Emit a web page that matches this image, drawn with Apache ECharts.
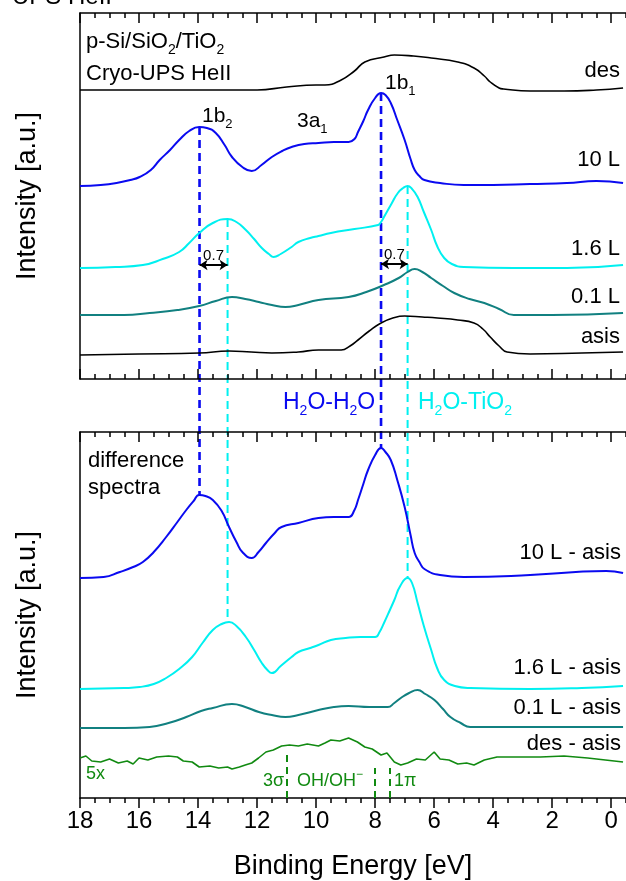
<!DOCTYPE html>
<html>
<head>
<meta charset="utf-8">
<script src="https://cdn.jsdelivr.net/npm/echarts@6/dist/echarts.min.js"></script>
<style>
  html, body { margin: 0; padding: 0; background: #fff; }
  #chart { width: 626px; height: 881px; }
</style>
</head>
<body>
<div id="chart"></div>
<script>
// binding energy [eV], intensity (arb. units)
const majorTicks = [0, 2, 4, 6, 8, 10, 12, 14, 16, 18];

// top panel: raw spectra
const topDes = [[18,289],[16,289],[14,289],[12,289],[11,292],[10,294],[9.7,294],[9.15,299],[8.7,308],[8.35,317],[7.7,322],[7.35,324],[6.7,323],[6.1,321],[5.2,317],[4.65,311],[4.3,303],[4.1,297],[3.8,291],[3.65,290],[2.75,288],[1.6,288],[0.5,289],[-0.4,291]];
const top10L = [[18,193],[17.3,194],[16.76,196],[16.3,199],[15.98,202],[15.6,209],[15.3,219],[14.95,229],[14.64,239],[14.3,248],[13.96,252],[13.7,251],[13.4,246],[13.1,234],[12.85,222],[12.5,212],[12.18,208],[11.85,214],[11.5,222],[11.15,228],[10.83,232],[10.4,235],[9.92,236],[9.4,237],[8.9,237],[8.7,240],[8.58,247],[8.4,258],[8.24,269],[8.0,281],[7.8,286],[7.65,284],[7.47,276],[7.25,259],[7.0,239],[6.8,220],[6.66,209],[6.5,203],[6.33,199],[5.8,196],[5.0,194],[4,194],[2.75,195],[1.5,196],[0.5,198],[-0.4,196]];
const top16L = [[18,111],[16.8,112],[15.87,114],[15.2,120],[14.64,127],[14.3,136],[13.96,146],[13.5,156],[13.0,160],[12.7,157],[12.38,149],[12.1,140],[11.84,131],[11.6,125],[11.44,122],[11.2,125],[10.83,132],[10.6,137],[10.2,141],[9.92,143],[9.5,146],[8.7,150],[7.9,154],[7.8,157],[7.7,162],[7.45,175],[7.23,186],[7.05,191],[6.9,193],[6.75,190],[6.56,182],[6.35,167],[6.1,149],[5.9,133],[5.66,121],[5.4,115],[5.0,112],[3.3,111],[1.5,111],[-0.4,114]];
const top01L = [[18,64],[16.5,64],[15.64,66],[14.7,69],[13.96,73],[13.4,78],[12.85,82],[12.4,80],[11.94,77],[11.5,74],[11.04,72],[10.6,74],[9.92,79],[8.9,82],[8.3,87],[7.7,94],[7.2,101],[6.9,107],[6.66,110],[6.4,107],[6.1,101],[5.7,93],[5.32,86],[4.8,80],[4.3,76],[3.8,70],[3.3,64],[2,64],[-0.4,66]];
const topAsis = [[18,24],[16,25],[13.96,26],[12.95,28],[12.2,27],[11.5,26],[10.6,27],[9.92,29],[9.15,29],[8.85,33],[8.58,39],[8.2,48],[7.8,56],[7.4,61],[7.0,63],[6.4,62],[5.89,61],[5.2,59],[4.65,56],[4.35,50],[4.1,42],[3.8,33],[3.53,27],[2.75,25],[1,26],[-0.4,27]];

// bottom panel: difference spectra
const diff10L = [[18,220],[17.2,221],[16.65,226],[16.2,231],[15.87,236],[15.5,246],[15.08,261],[14.7,276],[14.4,288],[14.15,297],[13.96,303],[13.75,302],[13.5,298],[13.2,287],[12.95,271],[12.7,256],[12.5,246],[12.18,240],[11.95,246],[11.7,255],[11.4,265],[11.17,271],[10.6,275],[9.92,280],[9.4,281],[8.9,281],[8.7,288],[8.58,298],[8.4,314],[8.24,328],[8.0,343],[7.8,350],[7.65,346],[7.47,338],[7.25,318],[7.0,291],[6.8,263],[6.66,245],[6.5,236],[6.33,229],[5.8,223],[5.0,221],[2.75,223],[1.2,226],[0.17,227],[-0.4,225]];
const diff16L = [[18,109],[16.5,110],[15.98,111],[15.5,114],[15.08,120],[14.6,130],[14.2,141],[13.85,155],[13.5,168],[13.2,174],[12.95,176],[12.7,172],[12.38,161],[12.1,148],[11.84,135],[11.65,128],[11.5,125],[11.2,132],[10.83,141],[10.6,146],[10.2,150],[9.92,153],[9.5,158],[9.0,160],[8.5,161],[8.0,161],[7.85,166],[7.7,175],[7.5,188],[7.35,198],[7.15,212],[6.9,220],[6.75,215],[6.56,195],[6.35,172],[6.1,148],[5.9,130],[5.66,118],[5.3,112],[4.78,110],[2.75,109],[1,110],[-0.4,112]];
const diff01L = [[18,70],[16.5,70],[15.64,71],[15,75],[14.4,81],[13.9,87],[13.5,90],[12.85,94],[12.4,91],[11.94,86],[11.5,83],[11.04,81],[10.6,83],[9.92,88],[9.4,91],[8.9,92],[8.2,91],[7.57,91],[7.35,95],[7.13,100],[6.85,105],[6.56,108],[6.3,104],[5.99,98],[5.7,89],[5.45,81],[5.1,75],[4.78,71],[3,71],[-0.4,71]];
const diffDes = [[18,40],[17.8,42],[17.6,37],[17.3,36],[17.0,39],[16.7,35],[16.4,37],[16.2,34],[16.0,40],[15.7,38],[15.4,41],[15.0,42],[14.7,41],[14.5,37],[14.2,36],[13.96,31],[13.6,32],[13.3,30],[13.0,31],[12.85,29],[12.6,31],[12.4,33],[12.18,35],[11.95,40],[11.7,46],[11.45,48],[11.17,52],[10.9,53],[10.6,52],[10.3,54],[9.92,52],[9.7,55],[9.5,58],[9.2,57],[8.9,60],[8.6,56],[8.35,51],[8.1,49],[7.8,43],[7.6,45],[7.35,36],[7.13,33],[6.9,35],[6.6,39],[6.3,38],[6.0,46],[5.8,39],[5.5,38],[5.2,34],[4.9,35],[4.65,33],[4.3,38],[3.87,41],[3.2,41],[2.4,41],[1.6,42],[0.8,40],[0.2,38],[-0.4,36]];

// dashed guide lines: [energy, peak in top panel, peak in bottom panel]
const guideBlue = [[13.95, 252, 303], [7.8, 286, 350]];
const guideCyan = [[13.0, 160, 176], [6.9, 193, 220]];
// shift arrows: [from, to, height in top panel]
const shiftArrows = [[13.95, 13.0, 114], [7.8, 6.9, 115]];
// species markers in the des - asis curve: [energy, top of dash]
const speciesMarks = [[11.0, 46], [8.0, 30], [7.5, 30]];

const FONT = 'Liberation Sans, Arial, sans-serif';
const BLUE = '#0a0af0';
const CYAN = '#00f0f0';
const TEAL = '#118080';
const GREEN = '#118a11';

const chart = echarts.init(document.getElementById('chart'));

function xAxisPair(gridIndex, position, inside, withLabels) {
  const base = {
    type: 'value', gridIndex: gridIndex, position: position,
    min: -0.5, max: 18, inverse: true,
    splitLine: { show: false }
  };
  const minor = Object.assign({}, base, {
    interval: 0.5,
    axisLine: { show: true, onZero: false, lineStyle: { color: '#000', width: 1.5 } },
    axisTick: { show: true, inside: inside, length: 5, lineStyle: { color: '#000', width: 1.5 } },
    axisLabel: { show: false }
  });
  const major = Object.assign({}, base, {
    axisLine: { show: false, onZero: false },
    axisTick: { show: true, inside: inside, length: 10, customValues: majorTicks, lineStyle: { color: '#000', width: 1.5 } },
    axisLabel: withLabels ? {
      show: true, customValues: majorTicks, margin: 11,
      fontSize: 24, color: '#000', fontFamily: FONT
    } : { show: false }
  });
  if (withLabels) {
    major.name = 'Binding Energy [eV]';
    major.nameLocation = 'middle';
    major.nameGap = 55;
    major.nameTextStyle = { fontSize: 27, color: '#000', fontFamily: FONT };
  }
  return [minor, major];
}

function yAxis(gridIndex) {
  return {
    type: 'value', gridIndex: gridIndex, min: 0, max: 366,
    axisLine: { show: true, onZero: false, lineStyle: { color: '#000', width: 1.5 } },
    axisTick: { show: false }, axisLabel: { show: false }, splitLine: { show: false },
    name: 'Intensity [a.u.]', nameLocation: 'middle', nameGap: 39,
    nameTextStyle: { fontSize: 27, color: '#000', fontFamily: FONT }
  };
}

function spectrum(data, color, grid, width, smooth) {
  return {
    type: 'line', data: data,
    xAxisIndex: grid === 0 ? 0 : 4, yAxisIndex: grid,
    showSymbol: false,
    smooth: smooth === false ? false : 0.5,
    lineStyle: { color: color, width: width || 2 },
    silent: true
  };
}

function label(text, x, y, color, size, align, rich) {
  return {
    type: 'text', x: x, y: y, silent: true,
    style: {
      text: text, fill: color || '#000', font: (size || 22) + 'px ' + FONT,
      align: align || 'left', verticalAlign: 'middle', rich: rich
    }
  };
}

function subRich(size, color) {
  return {
    n: { fontSize: size, fontFamily: FONT, color: color },
    s: { fontSize: Math.round(size * 0.62), fontFamily: FONT, color: color, padding: [16, 0, 0, 0] }
  };
}

const arrowSeries = spectrum(topAsis, '#000', 0, 1.6);
arrowSeries.markLine = {
  silent: true, symbol: ['arrow', 'arrow'], symbolSize: 8,
  lineStyle: { color: '#000', width: 2, type: 'solid' },
  label: { show: true, formatter: '0.7', position: 'insideMiddleTop', distance: 2, fontSize: 15, color: '#000', fontFamily: FONT },
  data: shiftArrows.map(a => [{ coord: [a[0], a[2]] }, { coord: [a[1], a[2]] }])
};

const greenSeries = spectrum(diffDes, GREEN, 1, 1.6, false);
greenSeries.markLine = {
  silent: true, symbol: 'none',
  lineStyle: { color: GREEN, width: 2, type: [7, 5] },
  label: { show: false },
  data: speciesMarks.map(m => [{ coord: [m[0], 0] }, { coord: [m[0], m[1]] }])
};

chart.setOption({
  animation: false,
  backgroundColor: '#fff',
  grid: [
    { left: 80, right: -3, top: 13, height: 366 },
    { left: 80, right: -3, top: 432, height: 366 }
  ],
  xAxis: [].concat(
    xAxisPair(0, 'bottom', true, false),
    xAxisPair(0, 'top', true, false),
    xAxisPair(1, 'bottom', false, true),
    xAxisPair(1, 'top', true, false)
  ),
  yAxis: [yAxis(0), yAxis(1)],
  series: [
    spectrum(topDes, '#000', 0, 1.6),
    spectrum(top10L, BLUE, 0),
    spectrum(top16L, CYAN, 0),
    spectrum(top01L, TEAL, 0),
    arrowSeries,
    spectrum(diff10L, BLUE, 1),
    spectrum(diff16L, CYAN, 1),
    spectrum(diff01L, TEAL, 1),
    greenSeries
  ]
});

// long dashed guides crossing both panels, placed through the axes
const guides = [];
function addGuides(list, color, width) {
  list.forEach(g => {
    const p1 = chart.convertToPixel({ seriesIndex: 1 }, [g[0], g[1]]);
    const p2 = chart.convertToPixel({ seriesIndex: 5 }, [g[0], g[2]]);
    guides.push({
      type: 'line', silent: true,
      shape: { x1: p1[0], y1: p1[1], x2: p2[0], y2: p2[1] },
      style: { stroke: color, lineWidth: width, lineDash: [8, 5] }
    });
  });
}
addGuides(guideBlue, BLUE, 2.6);
addGuides(guideCyan, CYAN, 2);

const texts = [
  label('UPS HeII', 12, -3, '#000', 24, 'left'),
  label('{n|p-Si/SiO}{s|2}{n|/TiO}{s|2}', 86, 42, '#000', 22, 'left', subRich(22, '#000')),
  label('Cryo-UPS HeII', 86, 74, '#000', 22, 'left'),
  label('des', 620, 71, '#000', 22, 'right'),
  label('10 L', 620, 160, '#000', 22, 'right'),
  label('1.6 L', 620, 249, '#000', 22, 'right'),
  label('0.1 L', 620, 297, '#000', 22, 'right'),
  label('asis', 620, 337, '#000', 22, 'right'),
  label('{n|1b}{s|2}', 202, 116, '#000', 21, 'left', subRich(21, '#000')),
  label('{n|3a}{s|1}', 297, 121, '#000', 21, 'left', subRich(21, '#000')),
  label('{n|1b}{s|1}', 385, 83, '#000', 21, 'left', subRich(21, '#000')),
  label('{n|H}{s|2}{n|O-H}{s|2}{n|O}', 283, 403, BLUE, 23, 'left', subRich(23, BLUE)),
  label('{n|H}{s|2}{n|O-TiO}{s|2}', 418, 403, CYAN, 23, 'left', subRich(23, CYAN)),
  label('difference', 88, 461, '#000', 22, 'left'),
  label('spectra', 88, 488, '#000', 22, 'left'),
  label('10 L - asis', 621, 553, '#000', 22, 'right'),
  label('1.6 L - asis', 621, 668, '#000', 22, 'right'),
  label('0.1 L - asis', 621, 708, '#000', 22, 'right'),
  label('des - asis', 621, 744, '#000', 22, 'right'),
  label('5x', 86, 774, GREEN, 18, 'left'),
  label('3σ', 284, 781, GREEN, 18, 'right'),
  label('{n|OH/OH}{p|−}', 297, 781, GREEN, 18, 'left', {
    n: { fontSize: 18, fontFamily: FONT, color: GREEN },
    p: { fontSize: 12, fontFamily: FONT, color: GREEN, padding: [0, 0, 12, 0] }
  }),
  label('1π', 394, 781, GREEN, 18, 'left')
];

chart.setOption({ graphic: guides.concat(texts) });
</script>
</body>
</html>
